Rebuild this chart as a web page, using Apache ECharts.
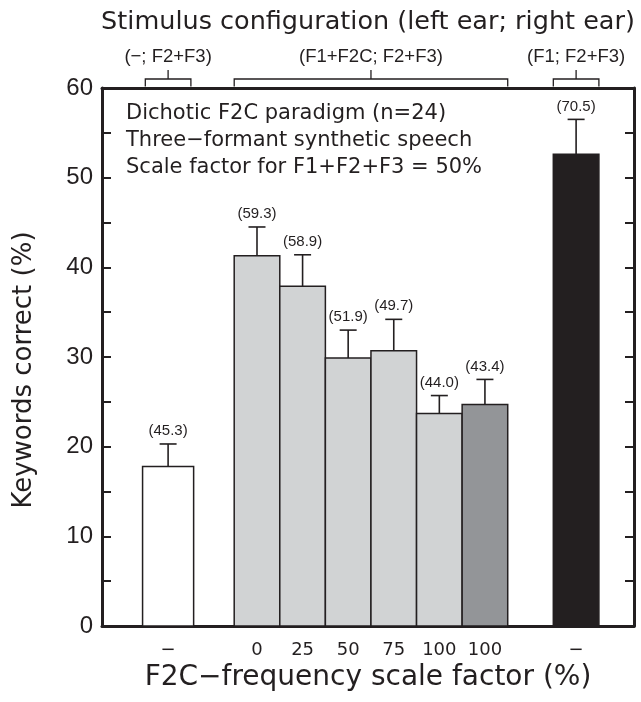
<!DOCTYPE html>
<html>
<head>
<meta charset="utf-8">
<script src="https://cdn.jsdelivr.net/npm/echarts@6/dist/echarts.min.js"></script>
<style>
  html, body { margin: 0; padding: 0; background: #fff; }
  #main { width: 641px; height: 702px; }
</style>
</head>
<body>
<div id="main"></div>
<script>
// conditions along the x axis (slot units, one slot = one bar width)
var xLabels = ['\u2212', '0', '25', '50', '75', '100', '100', '\u2212'];
var xPos = [1.45, 3.4, 4.4, 5.4, 6.4, 7.4, 8.4, 10.4];
// keywords correct (%), mean and top of the error bar
var means = [17.8, 41.3, 37.9, 29.9, 30.7, 23.7, 24.7, 52.6];
var errTop = [20.3, 44.5, 41.4, 33.0, 34.2, 25.7, 27.5, 56.5];
var pctLabels = ['(45.3)', '(59.3)', '(58.9)', '(51.9)', '(49.7)', '(44.0)', '(43.4)', '(70.5)'];
// stimulus configuration groups (first and last bar of each)
var groupFrom = [1.45, 3.4, 10.4];
var groupTo = [1.45, 8.4, 10.4];
var groupLabels = ['(\u2212; F2+F3)', '(F1+F2C; F2+F3)', '(F1; F2+F3)'];
var boxLines = ['Dichotic F2C paradigm (n=24)', 'Three\u2212formant synthetic speech', 'Scale factor for F1+F2+F3 = 50%'];

var ink = '#231f20';
var fills = ['#ffffff', '#d1d3d4', '#d1d3d4', '#d1d3d4', '#d1d3d4', '#d1d3d4', '#939598', '#231f20'];
var barWidths = [1.12, 1, 1, 1, 1, 1, 1, 1];
var geo = '"DejaVu Sans", sans-serif';
var helv = '"Liberation Sans", Arial, sans-serif';

var barData = xPos.map(function (x, i) { return [x, means[i], errTop[i]]; });
var groupData = groupFrom.map(function (f, i) { return [f, groupTo[i]]; });

function labelFor(v) {
    for (var i = 0; i < xPos.length; i++) {
        if (Math.abs(xPos[i] - v) < 1e-6) return xLabels[i];
    }
    return '';
}

var frameLine = { show: true, onZero: false, lineStyle: { color: ink, width: 3 } };
var yTick = { inside: true, length: 9, lineStyle: { color: ink, width: 2 } };
var yMinor = { show: true, splitNumber: 2, length: 9, lineStyle: { color: ink, width: 2 } };

var myChart = echarts.init(document.getElementById('main'));
var option = {
    animation: false,
    grid: { left: 102, right: 7, top: 88, bottom: 76 },
    xAxis: [
        {
            type: 'value', min: 0, max: 11.67, position: 'bottom',
            splitLine: { show: false },
            axisLine: frameLine,
            axisTick: { show: false },
            axisLabel: {
                customValues: xPos, formatter: labelFor, margin: 15,
                color: ink, fontFamily: geo, fontSize: 18
            },
            name: 'F2C\u2212frequency scale factor (%)',
            nameLocation: 'middle', nameGap: 38,
            nameTextStyle: { color: ink, fontFamily: geo, fontSize: 28 }
        },
        {
            type: 'value', min: 0, max: 11.67, position: 'top',
            splitLine: { show: false },
            axisLine: frameLine,
            axisTick: { show: false },
            axisLabel: { show: false },
            name: 'Stimulus configuration (left ear; right ear)',
            nameLocation: 'middle', nameGap: 53,
            nameTextStyle: { color: ink, fontFamily: geo, fontSize: 25.5 }
        }
    ],
    yAxis: [
        {
            type: 'value', min: 0, max: 60, interval: 10, position: 'left',
            splitLine: { show: false },
            axisLine: frameLine,
            axisTick: yTick,
            minorTick: yMinor,
            axisLabel: { margin: 9, color: ink, fontFamily: helv, fontSize: 24 }
        },
        {
            type: 'value', min: 0, max: 60, interval: 10, position: 'right',
            splitLine: { show: false },
            axisLine: frameLine,
            axisTick: yTick,
            minorTick: yMinor,
            axisLabel: { show: false }
        }
    ],
    graphic: [
        {
            type: 'text', x: 24, y: 370, rotation: Math.PI / 2,
            style: {
                text: 'Keywords correct (%)', fill: ink, font: '26px ' + geo,
                textAlign: 'center', textVerticalAlign: 'middle'
            }
        },
        {
            type: 'text', x: 126, y: 100,
            style: {
                text: boxLines.join('\n'), fill: ink, font: '21px ' + geo,
                lineHeight: 27, textAlign: 'left', textVerticalAlign: 'top'
            }
        }
    ],
    series: [
        {
            name: 'bars', type: 'custom', data: barData,
            encode: { x: 0, y: 1 },
            renderItem: function (params, api) {
                var i = params.dataIndex;
                var top = api.coord([api.value(0), api.value(1)]);
                var base = api.coord([api.value(0), 0]);
                var w = api.size([barWidths[i], 0])[0];
                return {
                    type: 'rect',
                    shape: { x: top[0] - w / 2, y: top[1], width: w, height: base[1] - top[1] },
                    style: { fill: fills[i], stroke: ink, lineWidth: 1.5 }
                };
            }
        },
        {
            name: 'error', type: 'custom', data: barData,
            encode: { x: 0, y: 2 }, z: 3,
            renderItem: function (params, api) {
                var i = params.dataIndex;
                var lo = api.coord([api.value(0), api.value(1)]);
                var hi = api.coord([api.value(0), api.value(2)]);
                var style = { stroke: ink, lineWidth: 1.6 };
                return {
                    type: 'group',
                    children: [
                        { type: 'line', shape: { x1: lo[0], y1: lo[1], x2: hi[0], y2: hi[1] }, style: style },
                        { type: 'line', shape: { x1: hi[0] - 8.5, y1: hi[1], x2: hi[0] + 8.5, y2: hi[1] }, style: style },
                        {
                            type: 'text', x: hi[0], y: hi[1] - 13,
                            style: {
                                text: pctLabels[i], fill: ink, font: '15px ' + helv,
                                textAlign: 'center', textVerticalAlign: 'middle'
                            }
                        }
                    ]
                };
            }
        },
        {
            name: 'groups', type: 'custom', data: groupData, clip: false,
            renderItem: function (params, api) {
                var i = params.dataIndex;
                var a = api.coord([api.value(0) - 0.5, 60]);
                var b = api.coord([api.value(1) + 0.5, 60]);
                var mid = (a[0] + b[0]) / 2;
                var y0 = a[1] - 1.5, y1 = a[1] - 9, y2 = a[1] - 18;
                var style = { stroke: ink, lineWidth: 1.3, fill: null };
                return {
                    type: 'group',
                    children: [
                        { type: 'polyline', shape: { points: [[a[0], y0], [a[0], y1], [b[0], y1], [b[0], y0]] }, style: style },
                        { type: 'line', shape: { x1: mid, y1: y1, x2: mid, y2: y2 }, style: style },
                        {
                            type: 'text', x: mid, y: a[1] - 31,
                            style: {
                                text: groupLabels[i], fill: ink, font: '18.5px ' + helv,
                                textAlign: 'center', textVerticalAlign: 'middle'
                            }
                        }
                    ]
                };
            }
        }
    ]
};
myChart.setOption(option);
</script>
</body>
</html>
